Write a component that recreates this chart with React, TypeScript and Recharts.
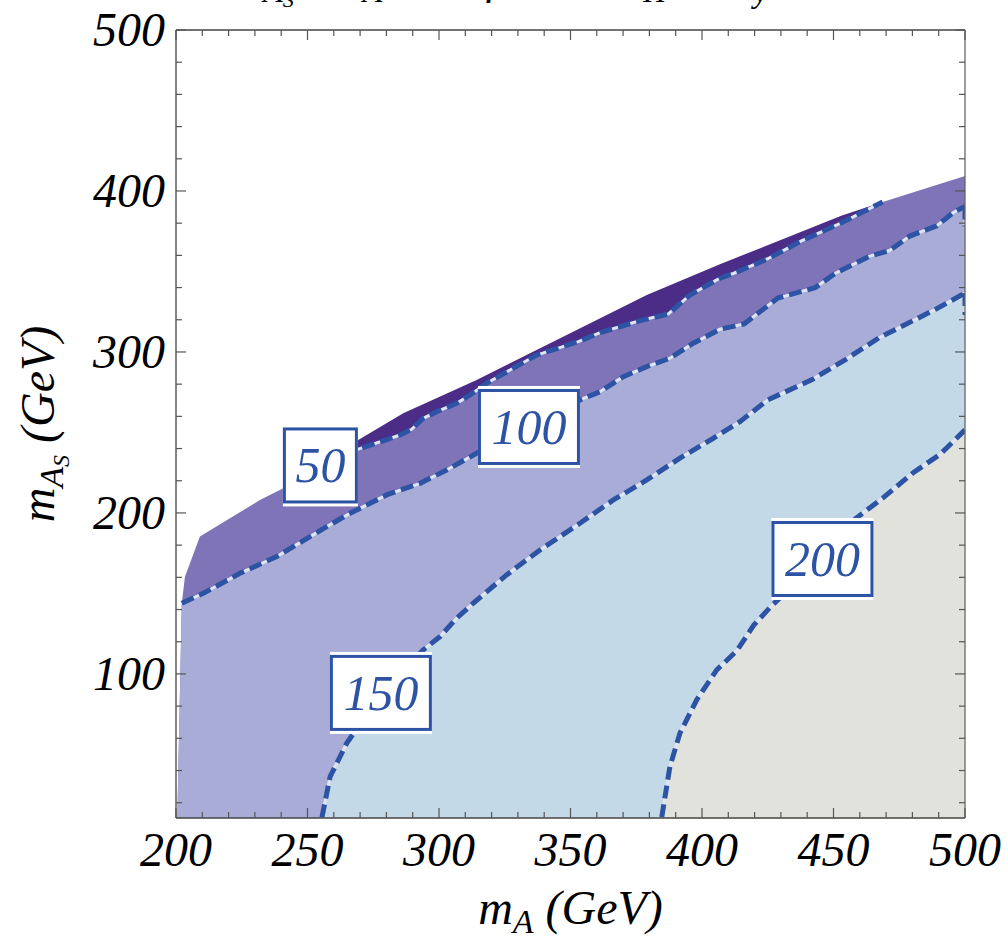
import React from "react";
import { ComposedChart, Area, Line, XAxis, YAxis, Scatter } from "recharts";

type Pt = [number, number];

// upper edge of the allowed region
const outerBoundary: Pt[] = [
  [200.5, 11], [202.2, 143.9], [203.4, 160.4], [209.1, 185.3], [231.9, 208], [240.8, 215.3],
  [251, 226], [269.3, 245.3], [286.4, 261.9], [314.3, 282.6], [379, 335.4], [406.8, 354.5],
  [453.2, 384.7], [468.7, 393.2], [500, 409.3],
];

const contour50: Pt[] = [
  [251, 226], [269.3, 239.6], [285.2, 248.4], [289.6, 252], [294, 258.8], [299.1, 262.9],
  [306.7, 268.1], [311.8, 273.3], [318.1, 280.6], [337.1, 298.1], [353, 306.4], [361.2, 312],
  [376.5, 319.5], [387.2, 323.6], [390.4, 328.2], [395.4, 335.4], [406.8, 345.8], [412.1, 348.9],
  [425, 357.9], [437.8, 369], [453.2, 380.4], [468.7, 393.2],
];

const contour100: Pt[] = [
  [202.2, 143.9], [210.4, 150.1], [224.3, 162.5], [238.3, 172.9], [251, 185.3], [257.3, 191.5],
  [266.2, 199.8], [276.3, 208.1], [280.1, 211.2], [292.8, 218.4], [302.9, 226.7], [314.3, 237.1],
  [353.6, 270.2], [361.2, 275.3], [370.1, 284.7], [379, 290.9], [387.8, 296.1], [396.7, 305.4],
  [406.8, 314.1], [416, 317.4], [428.8, 333.5], [443, 339.9], [450.7, 348.9], [463.6, 359.4],
  [471.3, 363], [479, 372], [489.3, 378.4], [495.7, 386.8], [500, 390.4],
];

const contour150: Pt[] = [
  [255.5, 11], [258.6, 36.2], [264.9, 56.9], [277.6, 87], [294, 114.9], [300.4, 123.2],
  [306.7, 134.6], [313, 143.9], [325.7, 161.5], [338.4, 177], [353.6, 193.6], [366.3, 208.1],
  [379, 220.5], [391.6, 234], [404.3, 246.4], [414.4, 256.7], [425, 270.2], [441.7, 282.7],
  [454.6, 295.3], [467.5, 309], [476.4, 316.3], [489.3, 326.9], [500, 336.6],
];

const contour200: Pt[] = [
  [384.7, 11], [387.8, 42.4], [391.6, 63.2], [398, 83.9], [405.6, 102.5], [413.3, 114.5],
  [419.7, 130.3], [426.2, 141.9], [445.5, 172], [458.4, 196.5], [468.7, 209.2], [480.3, 225],
  [490.6, 236.5], [500, 251.6],
];

// short pieces of the contours running down the right frame
const edge100: Pt[] = [[500, 390.4], [500, 378]];
const edge150: Pt[] = [[500, 336.6], [500, 323]];

const labelText = ["50", "100", "150", "200"];
const labelX = [254.9, 334.2, 277.9, 445.8];
const labelY = [229.5, 253.4, 88.2, 171.4];

const xTicks = Array.from({ length: 31 }, (_, i) => 200 + i * 10);
const yTicks = Array.from({ length: 25 }, (_, i) => 20 + i * 20);

const BLUE = "#2c53a4";
const FONT = "Liberation Serif, Times New Roman, DejaVu Serif, serif";

const c50Start = contour50[0][0];
const c50End = contour50[contour50.length - 1][0];

const rows: Record<string, number>[] = [];
const addSeries = (key: string, pts: Pt[]) => pts.forEach(([x, y]) => rows.push({ x, [key]: y }));
addSeries("dark", outerBoundary.filter(([x]) => x >= c50Start && x <= c50End));
addSeries(
  "mid",
  [...outerBoundary.filter(([x]) => x < c50Start || x > c50End), ...contour50].sort((a, b) => a[0] - b[0])
);
addSeries("a100", [outerBoundary[0], ...contour100]);
addSeries("a150", contour150);
addSeries("a200", contour200);
addSeries("l50", contour50);
addSeries("l100", contour100);
addSeries("l150", contour150);
addSeries("l200", contour200);
addSeries("e100", edge100);
addSeries("e150", edge150);
rows.sort((a, b) => a.x - b.x);

const labels = labelText.map((t, i) => ({ x: labelX[i], y: labelY[i], text: t }));

const TICK = "#555";

const BottomTick = (p: any) => {
  const major = p.payload.value % 50 === 0;
  return (
    <g>
      <line x1={p.x} x2={p.x} y1={p.y} y2={p.y - (major ? 10 : 6)} stroke={TICK} strokeWidth={1.2} />
      {major && (
        <text x={p.x} y={p.y + 48} textAnchor="middle" fontSize={48} fontStyle="italic" style={{ fontFamily: FONT }} fill="#000">
          {p.payload.value}
        </text>
      )}
    </g>
  );
};

const TopTick = (p: any) => {
  const major = p.payload.value % 50 === 0;
  return <line x1={p.x} x2={p.x} y1={p.y} y2={p.y + (major ? 10 : 6)} stroke={TICK} strokeWidth={1.2} />;
};

const LeftTick = (p: any) => {
  const major = p.payload.value % 100 === 0;
  return (
    <g>
      <line x1={p.x} x2={p.x + (major ? 10 : 6)} y1={p.y} y2={p.y} stroke={TICK} strokeWidth={1.2} />
      {major && (
        <text x={p.x - 11} y={p.y + 16} textAnchor="end" fontSize={48} fontStyle="italic" style={{ fontFamily: FONT }} fill="#000">
          {p.payload.value}
        </text>
      )}
    </g>
  );
};

const RightTick = (p: any) => {
  const major = p.payload.value % 100 === 0;
  return <line x1={p.x} x2={p.x - (major ? 10 : 6)} y1={p.y} y2={p.y} stroke={TICK} strokeWidth={1.2} />;
};

const LabelBox = (p: any) => {
  const w = p.payload.text.length === 2 ? 75 : 102;
  const h = 76;
  return (
    <g>
      <rect x={p.cx - w / 2} y={p.cy - h / 2 - 3} width={w} height={h + 6} fill="#fff" />
      <rect x={p.cx - w / 2 + 1.5} y={p.cy - h / 2 + 1.5} width={w - 3} height={h - 3} fill="#fff" stroke={BLUE} strokeWidth={3} />
      <text x={p.cx} y={p.cy + 17} textAnchor="middle" fontSize={50} fontStyle="italic" style={{ fontFamily: FONT }} fill={BLUE}>
        {p.payload.text}
      </text>
    </g>
  );
};

const XTitle = (p: any) => {
  const vb = p.viewBox;
  return (
    <text x={vb.x + vb.width / 2} y={vb.y + 106} textAnchor="middle" fontSize={48} fontStyle="italic" style={{ fontFamily: FONT }} fill="#000">
      <tspan>m</tspan>
      <tspan fontSize={34} dy={9}>A</tspan>
      <tspan dy={-9}> (GeV)</tspan>
    </text>
  );
};

const YTitle = (p: any) => {
  const vb = p.viewBox;
  const cx = vb.x + vb.width - 122;
  const cy = vb.y + vb.height / 2;
  return (
    <text x={cx} y={cy} transform={`rotate(-90 ${cx} ${cy})`} textAnchor="middle" fontSize={48} fontStyle="italic" style={{ fontFamily: FONT }} fill="#000">
      <tspan>m</tspan>
      <tspan fontSize={34} dy={9}>A</tspan>
      <tspan fontSize={24} dy={6}>S</tspan>
      <tspan dy={-15}> (GeV)</tspan>
    </text>
  );
};

const TopTitle = (p: any) => {
  const vb = p.viewBox;
  return (
    <text x={vb.x + 54} y={vb.y + vb.height - 37} fontSize={46} fontStyle="italic" style={{ fontFamily: FONT }} fill="#000">
      <tspan>m</tspan>
      <tspan fontSize={32} dy={9}>A</tspan>
      <tspan fontSize={22} dy={5}>S</tspan>
      <tspan dy={-14}> / m</tspan>
      <tspan fontSize={32} dy={9}>A</tspan>
      <tspan dy={-9}> , tan β = 1,  m</tspan>
      <tspan fontSize={32} dy={9}>H</tspan>
      <tspan dy={-9}> = m</tspan>
      <tspan fontSize={32} dy={9}>y</tspan>
    </text>
  );
};

const contourLines = ["l50", "l100", "l150", "l200", "e100", "e150"];

export default function App() {
  return (
    <div style={{ position: "absolute", left: 0, top: 0, background: "#fff" }}>
      <ComposedChart width={1007} height={941} data={rows} margin={{ top: 0, right: 12, bottom: 93, left: 116 }}>
        <XAxis
          dataKey="x"
          type="number"
          domain={[200, 500]}
          allowDataOverflow
          ticks={xTicks}
          interval={0}
          height={30}
          tickSize={0}
          tickMargin={0}
          tickLine={false}
          tick={<BottomTick />}
          axisLine={{ stroke: "#444", strokeWidth: 1.3 }}
          label={<XTitle />}
        />
        <XAxis
          xAxisId="top"
          orientation="top"
          dataKey="x"
          type="number"
          domain={[200, 500]}
          allowDataOverflow
          ticks={xTicks}
          interval={0}
          height={30}
          tickSize={0}
          tickMargin={0}
          tickLine={false}
          tick={<TopTick />}
          axisLine={{ stroke: "#444", strokeWidth: 1.3 }}
          label={<TopTitle />}
        />
        <YAxis
          type="number"
          domain={[10.5, 500]}
          allowDataOverflow
          ticks={yTicks}
          interval={0}
          width={60}
          tickSize={0}
          tickMargin={0}
          tickLine={false}
          tick={<LeftTick />}
          axisLine={{ stroke: "#444", strokeWidth: 1.3 }}
          label={<YTitle />}
        />
        <YAxis
          yAxisId="right"
          orientation="right"
          type="number"
          domain={[10.5, 500]}
          allowDataOverflow
          ticks={yTicks}
          interval={0}
          width={30}
          tickSize={0}
          tickMargin={0}
          tickLine={false}
          tick={<RightTick />}
          axisLine={{ stroke: "#666", strokeWidth: 1.3 }}
        />

        <Area dataKey="dark" type="linear" baseValue="dataMin" connectNulls fill="#4b2c86" fillOpacity={1} stroke="none" isAnimationActive={false} />
        <Area dataKey="mid" type="linear" baseValue="dataMin" connectNulls fill="#7f74b7" fillOpacity={1} stroke="none" isAnimationActive={false} />
        <Area dataKey="a100" type="linear" baseValue="dataMin" connectNulls fill="#a9acd6" fillOpacity={1} stroke="none" isAnimationActive={false} />
        <Area dataKey="a150" type="linear" baseValue="dataMin" connectNulls fill="#c3d9e8" fillOpacity={1} stroke="none" isAnimationActive={false} />
        <Area dataKey="a200" type="linear" baseValue="dataMin" connectNulls fill="#e2e2dc" fillOpacity={1} stroke="none" isAnimationActive={false} />

        {contourLines.map((k) => (
          <Line key={k + "bg"} dataKey={k} type="linear" connectNulls dot={false} stroke="#dfe5f1" strokeWidth={3} isAnimationActive={false} />
        ))}
        {contourLines.map((k) => (
          <Line key={k} dataKey={k} type="linear" connectNulls dot={false} stroke={BLUE} strokeWidth={5} strokeDasharray="13 6" isAnimationActive={false} />
        ))}

        <Scatter data={labels} dataKey="y" shape={<LabelBox />} isAnimationActive={false} />
      </ComposedChart>
    </div>
  );
}
